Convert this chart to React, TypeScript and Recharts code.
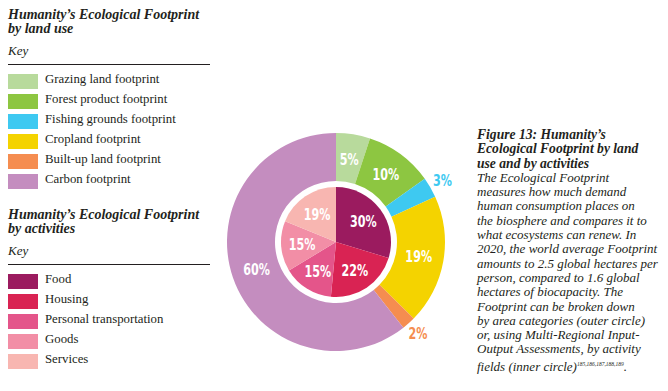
import { PieChart, Pie, Cell } from "recharts";

const landUse = ["Grazing land footprint", "Forest product footprint", "Fishing grounds footprint", "Cropland footprint", "Built-up land footprint", "Carbon footprint"];
const landValues = [5, 10, 3, 19, 2, 60];
const landColors = ["#b8da9c", "#8dc641", "#3ec9f1", "#f4d300", "#f58d50", "#c48dbf"];

const activities = ["Food", "Housing", "Personal transportation", "Goods", "Services"];
const activityValues = [30, 22, 15, 15, 19];
const activityColors = ["#9b1b5f", "#d92353", "#e4558a", "#f28ea6", "#f8b6b1"];

const captionTitle = ["Figure 13: Humanity’s", "Ecological Footprint by land", "use and by activities"];
const captionBody = [
  "The Ecological Footprint",
  "measures how much demand",
  "human consumption places on",
  "the biosphere and compares it to",
  "what ecosystems can renew. In",
  "2020, the world average Footprint",
  "amounts to 2.5 global hectares per",
  "person, compared to 1.6 global",
  "hectares of biocapacity. The",
  "Footprint can be broken down",
  "by area categories (outer circle)",
  "or, using Multi-Regional Input-",
  "Output Assessments, by activity",
];

const landData = landUse.map((name, i) => ({ name, value: landValues[i] }));
const activityData = activities.map((name, i) => ({ name, value: activityValues[i] }));

const SERIF = "'Liberation Serif', 'DejaVu Serif', serif";
const COND = "'DejaVu Sans', sans-serif";
const RAD = Math.PI / 180;
const TEXT = "#231f20";
const CX = 336;
const CY = 242;

function pctText(x: number, y: number, fill: string, v: number) {
  return (
    <text transform={`translate(${x},${y}) scale(0.72,1)`} fill={fill} textAnchor="middle" dominantBaseline="central"
      fontFamily={COND} fontWeight={700} fontSize={15.5}>
      {v}%
    </text>
  );
}

function outerLabel(p: any) {
  const small = p.value <= 3;
  const r = small ? 123 : 84;
  const x = CX + r * Math.cos(-p.midAngle * RAD);
  const y = CY + r * Math.sin(-p.midAngle * RAD);
  return pctText(x, y, small ? landColors[p.index] : "#fff", p.value);
}

function innerLabel(p: any) {
  const r = 34;
  const x = CX + r * Math.cos(-p.midAngle * RAD);
  const y = CY + r * Math.sin(-p.midAngle * RAD);
  return pctText(x, y, "#fff", p.value);
}

function KeyBlock({ top, title, names, colors }: { top: number; title: string[]; names: string[]; colors: string[] }) {
  return (
    <div style={{ position: "absolute", left: 8, top, width: 202, fontFamily: SERIF, color: TEXT }}>
      {title.map((t) => (
        <div key={t} style={{ fontWeight: 700, fontStyle: "italic", fontSize: 14, lineHeight: "14px", height: 14, overflow: "visible" }}>{t}</div>
      ))}
      <div style={{ fontStyle: "italic", fontSize: 13, marginTop: 8, lineHeight: "14px" }}>Key</div>
      <div style={{ borderTop: `1.3px solid ${TEXT}`, marginTop: 6 }} />
      <div style={{ marginTop: 6 }}>
        {names.map((n, i) => (
          <div key={n} style={{ display: "flex", alignItems: "center", height: 20 }}>
            <div style={{ width: 30, height: 15, background: colors[i], marginRight: 7, flexShrink: 0 }} />
            <span style={{ fontSize: 12.8, marginTop: -3 }}>{n}</span>
          </div>
        ))}
      </div>
    </div>
  );
}

export default function App() {
  return (
    <div style={{ position: "absolute", left: 0, top: 0, width: 668, height: 391, background: "#fff", overflow: "hidden" }}>
      <div style={{ position: "absolute", left: 0, top: 0 }}>
        <PieChart width={668} height={391} margin={{ top: 0, right: 0, bottom: 0, left: 0 }}>
          <Pie data={landData} dataKey="value" cx={CX} cy={CY} innerRadius={61} outerRadius={109}
            startAngle={90} endAngle={-270} stroke="none" label={outerLabel} labelLine={false} isAnimationActive={false}>
            {landData.map((d, i) => <Cell key={d.name} fill={landColors[i]} />)}
          </Pie>
          <Pie data={activityData} dataKey="value" cx={CX} cy={CY} innerRadius={0} outerRadius={55}
            startAngle={90} endAngle={-270} stroke="none" label={innerLabel} labelLine={false} isAnimationActive={false}>
            {activityData.map((d, i) => <Cell key={d.name} fill={activityColors[i]} />)}
          </Pie>
        </PieChart>
      </div>
      <KeyBlock top={8} title={["Humanity’s Ecological Footprint", "by land use"]} names={landUse} colors={landColors} />
      <KeyBlock top={208} title={["Humanity’s Ecological Footprint", "by activities"]} names={activities} colors={activityColors} />
      <div style={{ position: "absolute", left: 477, top: 128, width: 190, fontFamily: SERIF, color: TEXT, fontStyle: "italic", fontSize: 13, lineHeight: "14.3px" }}>
        {captionTitle.map((t) => <div key={t} style={{ fontWeight: 700, fontSize: 13.6 }}>{t}</div>)}
        {captionBody.map((t) => <div key={t}>{t}</div>)}
        <div>fields (inner circle)<sup style={{ fontSize: 5.5 }}>185,186,187,188,189</sup>.</div>
      </div>
    </div>
  );
}
